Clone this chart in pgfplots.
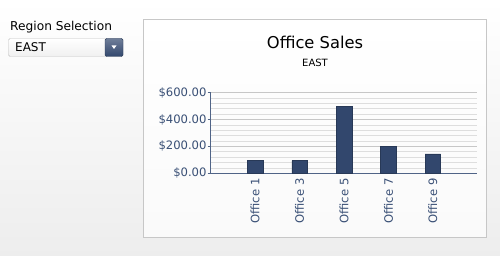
\documentclass[border=0pt]{standalone}
\usepackage{pgfplots}
\pgfplotsset{compat=1.18}
\usepackage{fontspec}
\setmainfont{DejaVu Sans}
\definecolor{tickblue}{RGB}{58,80,118}
\definecolor{barblue}{RGB}{50,71,109}
\definecolor{axisblue}{RGB}{80,100,135}
\begin{document}
\begin{tikzpicture}[x=1pt,y=1pt]
\shade[top color=white,bottom color=black!7] (0,0) rectangle (500,-256);
\shadedraw[top color=white,bottom color=black!2,draw=black!22,line width=0.8pt] (143,-19) rectangle (486,-237);
\node[anchor=base west,inner sep=0pt,font=\fontsize{12.2}{14}\selectfont] at (10,-31) {Region Selection};
\shadedraw[top color=white,bottom color=black!6,draw=black!25,rounded corners=1.5pt] (8.5,-38.5) rectangle (123,-56.5);
\shadedraw[top color=barblue!70,bottom color=barblue,draw=barblue!80!black,rounded corners=1.5pt] (105,-38.5) rectangle (123,-56.5);
\fill[white] (111.5,-45.5) -- (116.5,-45.5) -- (114,-49) -- cycle;
\node[anchor=base west,inner sep=0pt,font=\fontsize{12}{14}\selectfont] at (15,-51.5) {EAST};
\node[anchor=base,inner sep=0pt,font=\fontsize{16.3}{18}\selectfont] at (315,-49) {Office Sales};
\node[anchor=base,inner sep=0pt,font=\fontsize{10}{12}\selectfont] at (315,-67) {EAST};
\begin{axis}[
  at={(210.7pt,-173.3pt)}, anchor=south west,
  scale only axis, width=266.6pt, height=80.6pt,
  xmin=-1, xmax=5, ymin=0, ymax=600,
  axis x line*=bottom, axis y line*=left,
  axis line style={axisblue,line width=0.9pt},
  xtick={0,1,2,3,4},
  xticklabels={Office 1,Office 3,Office 5,Office 7,Office 9},
  xtick style={draw=none},
  xticklabel style={rotate=90,anchor=east,font=\fontsize{11.6}{13}\selectfont,text=tickblue,inner sep=2pt},
  ytick={0,200,400,600},
  minor y tick num=4,
  ymajorgrids, yminorgrids,
  major grid style={black!22,line width=0.8pt},
  minor grid style={black!13,line width=0.8pt},
  ytick style={axisblue,line width=0.8pt},
  minor tick length=0pt,
  major tick length=3pt, tick align=outside,
  yticklabel style={font=\fontsize{11.6}{13}\selectfont,text=tickblue,inner sep=1pt},
  yticklabel={\$\pgfmathprintnumber[fixed,fixed zerofill,precision=2,assume math mode=true]{\tick}},
  /pgf/number format/assume math mode=true,
  ybar, bar width=15.5pt,
]
\addplot[fill=barblue,draw=barblue!80!black,line width=0.5pt] coordinates {(0,95) (1,95) (2,500) (3,200) (4,145)};
\end{axis}
\end{tikzpicture}
\end{document}
